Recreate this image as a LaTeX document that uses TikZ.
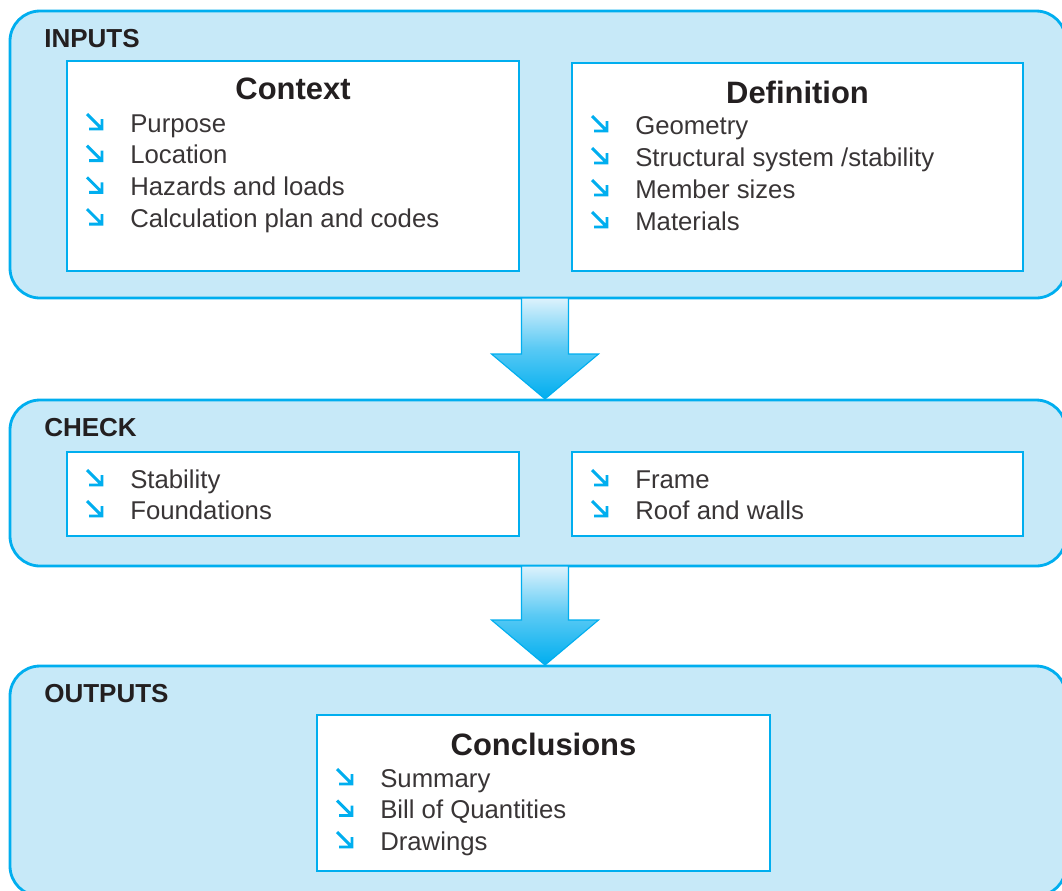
\documentclass[tikz,border=0pt]{standalone}
\usepackage{fontspec}
\setmainfont{Liberation Sans}
\usetikzlibrary{calc}
\definecolor{cyanB}{HTML}{00AEEF}
\definecolor{panelB}{HTML}{C7E9F8}
\definecolor{inkB}{HTML}{231F20}
\definecolor{paleB}{HTML}{DDF2FC}
\tikzset{
  panel/.style={draw=cyanB, fill=panelB, line width=2pt, rounded corners=0.75cm},
  box/.style={draw=cyanB, fill=white, line width=1.6pt},
  head/.style={anchor=base west, inner sep=0pt, text=inkB, font=\fontsize{18.5}{22}\selectfont\bfseries},
  title/.style={anchor=base, inner sep=0pt, text=inkB, font=\fontsize{22}{26}\selectfont\bfseries},
  item/.style={anchor=base west, inner sep=0pt, text=inkB!90, font=\fontsize{18.3}{22}\selectfont},
  tick/.style={draw=cyanB, line width=2.1pt},
  flow/.style={draw=cyanB, line width=0.8pt, top color=paleB, bottom color=cyanB, middle color=cyanB!60!paleB}
}
\newcommand\tickarrow[1]{\draw[tick] ($(#1.base west)+(-43,-18)$) -- ++(15,15) ++(-13,0) -- ++(13,0) -- ++(0,-10);}
\newcommand\flowarrow[2]{\shadedraw[flow] ($(#1)+(-23.5,0)$) -- ($(#2)+(-23.5,-45)$) -- ($(#2)+(-53.5,-45)$) -- (#2) -- ($(#2)+(53.5,-45)$) -- ($(#2)+(23.5,-45)$) -- ($(#1)+(23.5,0)$) -- cycle;}
\begin{document}
\begin{tikzpicture}[x=0.025cm,y=-0.025cm]
\useasboundingbox (0,0) rectangle (1062,890);
\clip (0,0) rectangle (1062,890);
\draw[panel] (10,11) rectangle (1066,298);
\draw[panel] (10,400) rectangle (1066,566);
\draw[panel] (10,666) rectangle (1066,896);
\node[head] (inputs) at (44,47) {INPUTS};
\node[head] (check) at (44,436) {CHECK};
\node[head] (outputs) at (44,702) {OUTPUTS};
\draw[box] (67,61) rectangle (519,271);
\draw[box] (572,63) rectangle (1023,271);
\draw[box] (67,452) rectangle (519,536);
\draw[box] (572,452) rectangle (1023,536);
\draw[box] (317,715) rectangle (770,871);
\node[title] (context) at (293,99) {Context};
\node[title] (definition) at (797.5,103) {Definition};
\node[title] (conclusions) at (543.5,755) {Conclusions};
\foreach \t [count=\i] in {Purpose, Location, Hazards and loads, Calculation plan and codes}{
  \node[item] (ctx\i) at (130,{132+31.7*(\i-1)}) {\t};
  \tickarrow{ctx\i}
}
\foreach \t [count=\i] in {Geometry, Structural system /stability, Member sizes, Materials}{
  \node[item] (def\i) at (635,{134+32*(\i-1)}) {\t};
  \tickarrow{def\i}
}
\foreach \t [count=\i] in {Stability, Foundations}{
  \node[item] (chkl\i) at (130,{488+31*(\i-1)}) {\t};
  \tickarrow{chkl\i}
}
\foreach \t [count=\i] in {Frame, Roof and walls}{
  \node[item] (chkr\i) at (635,{488+31*(\i-1)}) {\t};
  \tickarrow{chkr\i}
}
\foreach \t [count=\i] in {Summary, Bill of Quantities, Drawings}{
  \node[item] (con\i) at (380,{787+31.5*(\i-1)}) {\t};
  \tickarrow{con\i}
}
\coordinate (inputs-out) at (545,298);
\coordinate (check-in) at (545,399);
\coordinate (check-out) at (545,566);
\coordinate (outputs-in) at (545,665);
\flowarrow{inputs-out}{check-in}
\flowarrow{check-out}{outputs-in}
\end{tikzpicture}
\end{document}
